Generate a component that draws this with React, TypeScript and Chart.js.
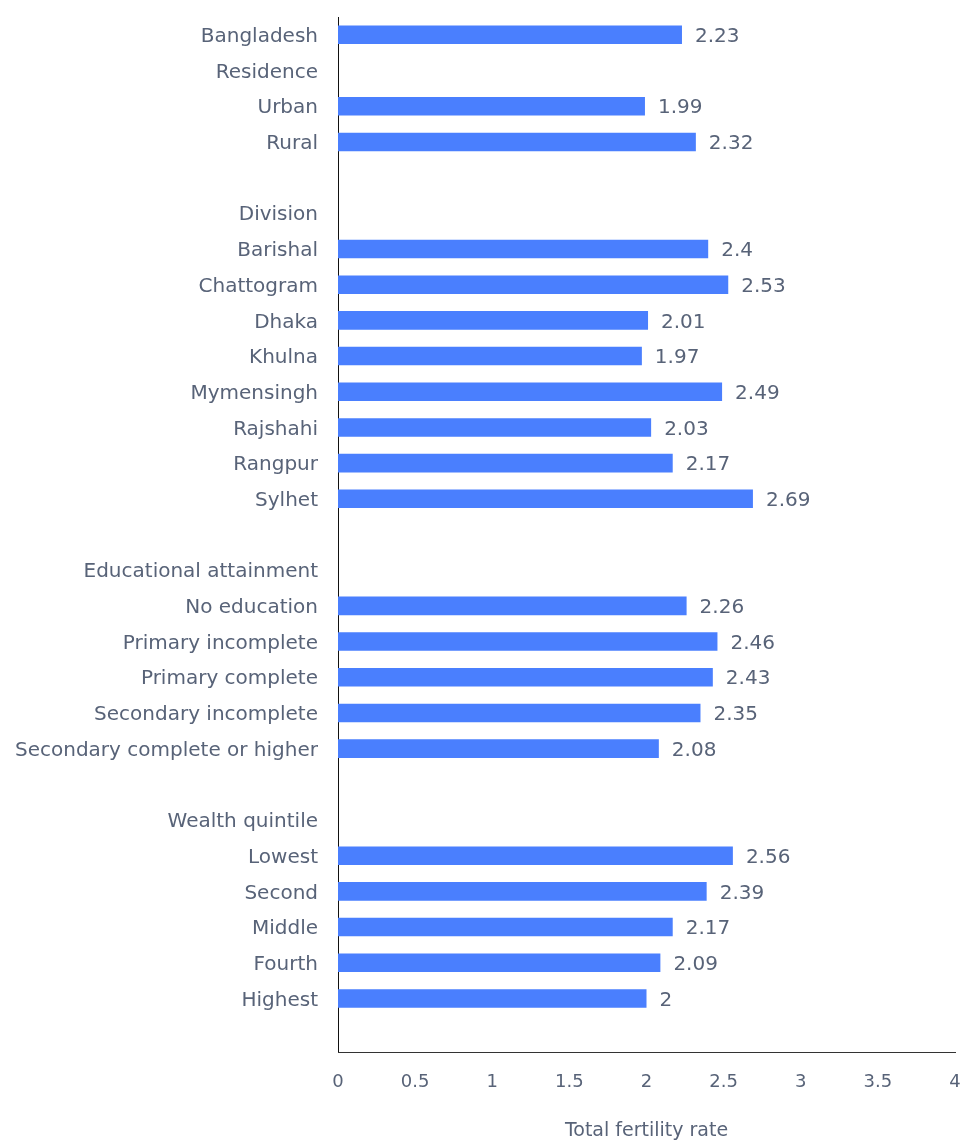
import React, { useEffect, useRef } from "react";
import { Chart, registerables } from "chart.js";

Chart.register(...registerables);

const categories: string[] = [
  "Bangladesh", "Residence", "Urban", "Rural", "",
  "Division", "Barishal", "Chattogram", "Dhaka", "Khulna", "Mymensingh", "Rajshahi", "Rangpur", "Sylhet", " ",
  "Educational attainment", "No education", "Primary incomplete", "Primary complete", "Secondary incomplete", "Secondary complete or higher", "  ",
  "Wealth quintile", "Lowest", "Second", "Middle", "Fourth", "Highest", "   ",
];

const tfrValues: (number | null)[] = [
  2.23, null, 1.99, 2.32, null,
  null, 2.4, 2.53, 2.01, 1.97, 2.49, 2.03, 2.17, 2.69, null,
  null, 2.26, 2.46, 2.43, 2.35, 2.08, null,
  null, 2.56, 2.39, 2.17, 2.09, 2, null,
];

const xTicks: number[] = [0, 0.5, 1, 1.5, 2, 2.5, 3, 3.5, 4];
const axisTitle = "Total fertility rate";

const FONT = "'DejaVu Sans', sans-serif";
const TEXT = "#586378";
const BAR = "#4a7ffe";

const valueLabels = {
  id: "valueLabels",
  afterDatasetsDraw(chart: any) {
    const ctx = chart.ctx;
    const meta = chart.getDatasetMeta(0);
    ctx.save();
    ctx.font = `20px ${FONT}`;
    ctx.fillStyle = TEXT;
    ctx.textAlign = "left";
    ctx.textBaseline = "middle";
    meta.data.forEach((el: any, i: number) => {
      const v = tfrValues[i];
      if (v === null || v === undefined) return;
      ctx.fillText(String(v), el.x + 13, el.y + 2);
    });
    ctx.restore();
  },
};

const zeroPad = (scale: any) => {
  scale.paddingTop = 0;
  scale.paddingBottom = 0;
  scale.paddingLeft = 0;
  scale.paddingRight = 0;
};

export default function App() {
  const ref = useRef<HTMLCanvasElement>(null);
  useEffect(() => {
    document.body.style.margin = "0";
    const chart = new Chart(ref.current!, {
      type: "bar",
      data: {
        labels: categories,
        datasets: [
          {
            data: tfrValues,
            backgroundColor: BAR,
            barPercentage: 0.52,
            categoryPercentage: 1,
          },
        ],
      },
      options: {
        indexAxis: "y",
        animation: false,
        responsive: false,
        layout: { padding: { top: 17, right: 6, left: 0, bottom: 0 } },
        plugins: { legend: { display: false }, tooltip: { enabled: false } },
        scales: {
          y: {
            grid: { display: false, drawTicks: false },
            border: { display: true, color: "#111", width: 1 },
            ticks: {
              autoSkip: false,
              padding: 20,
              labelOffset: 2,
              color: TEXT,
              font: { family: FONT, size: 20 },
            },
            afterFit(scale: any) {
              scale.width = 338;
              zeroPad(scale);
            },
          },
          x: {
            min: 0,
            max: 4,
            afterBuildTicks(scale: any) {
              scale.ticks = xTicks.map((v) => ({ value: v }));
            },
            grid: { display: false, drawTicks: false },
            border: { display: true, color: "#333", width: 1 },
            ticks: {
              padding: 20,
              color: TEXT,
              font: { family: FONT, size: 18 },
              maxRotation: 0,
              callback: (v: any) => String(v),
            },
            title: {
              display: true,
              text: axisTitle,
              color: TEXT,
              font: { family: FONT, size: 19 },
              padding: { top: 0, bottom: -2 },
            },
            afterFit(scale: any) {
              scale.height = 88;
              zeroPad(scale);
            },
          },
        },
      },
      plugins: [valueLabels],
    });
    return () => chart.destroy();
  }, []);
  return (
    <div style={{ width: 961, height: 1140 }}>
      <canvas ref={ref} width={961} height={1140} style={{ display: "block" }} />
    </div>
  );
}
